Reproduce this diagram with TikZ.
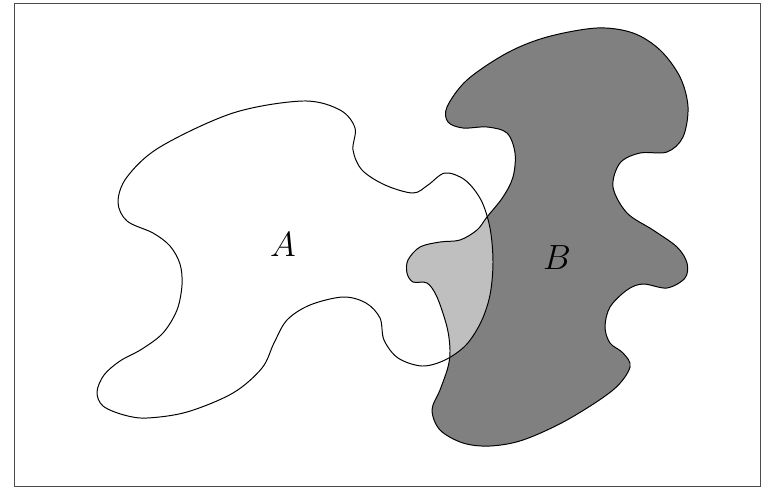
\documentclass[tikz,border=0pt]{standalone}
\begin{document}
\begin{tikzpicture}[x=0.025cm,y=-0.025cm,
  outline/.style={line width=0.7pt,black},
  lbl/.style={font=\fontsize{23}{28}\selectfont}]
\useasboundingbox (0,0) rectangle (761,487);
\def\shapeA{plot[smooth cycle,tension=0.55] coordinates {
(303,101) (340,110) (355,128) (353,150) (362,170) (385,185) (413,193) (428,185)
(445,173) (465,180) (481,200) (490,228) (493,262) (490,295) (481,322) (466,345)
(445,360) (422,366) (398,358) (384,340) (380,318) (366,303) (343,297) (310,305)
(287,320) (274,343) (262,368) (233,393) (187,412) (147,418) (124,415) (103,406)
(97,392) (104,375) (120,361) (142,349) (163,333) (177,310) (182,285) (180,264)
(170,246) (153,233) (127,221) (118,202) (127,177) (160,147) (233,113)}}
\def\shapeB{plot[smooth cycle,tension=0.55] coordinates {
(597,28) (633,33) (660,50) (680,77) (688,107) (683,137) (667,152) (640,153)
(620,163) (613,187) (627,213) (653,230) (677,247) (687,263) (685,278) (667,288)
(643,284) (627,290) (610,307) (605,327) (610,343) (623,353) (630,367) (613,390)
(567,420) (523,440) (490,446) (463,443) (440,430) (432,410) (440,390) (448,367)
(450,350) (447,327) (437,297) (427,283) (413,282) (407,273) (408,260) (420,247)
(440,242) (460,240) (477,230) (487,217) (503,197) (513,177) (515,153) (507,133)
(487,127) (463,128) (448,122) (447,107) (467,80) (507,53) (547,37)}}
\draw[line width=0.7pt,black!70] (14,3) rectangle (760,486);
\fill[white] \shapeA;
\fill[black!50] \shapeB;
\begin{scope}
  \clip \shapeA;
  \fill[black!25] \shapeB;
\end{scope}
\draw[outline] \shapeA;
\draw[outline] \shapeB;
\node[lbl] (labelA) at (283,245) {$A$};
\node[lbl] (labelB) at (557,258) {$B$};
\end{tikzpicture}
\end{document}
